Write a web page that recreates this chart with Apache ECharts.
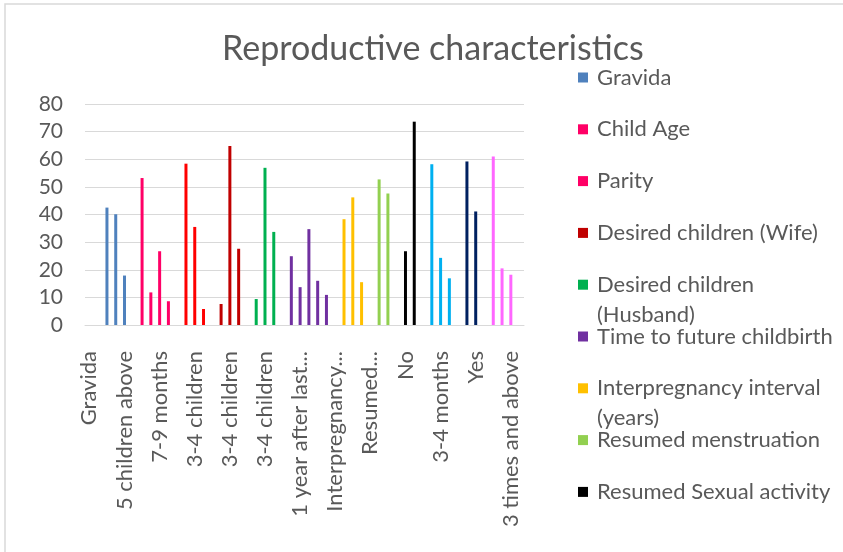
<!DOCTYPE html>
<html>
<head>
<meta charset="utf-8">
<script src="https://cdn.jsdelivr.net/npm/echarts@6/dist/echarts.min.js"></script>
<style>
  html, body { margin: 0; padding: 0; background: #fff; }
  #chart { width: 843px; height: 552px; }
</style>
</head>
<body>
<div id="chart"></div>
<script>
// category rows of the source table (only every 4th label is shown)
var categories = [
    'Gravida', '', '', '', '5 children above', '', '', '', '7-9 months', '',
    '', '', '3-4 children', '', '', '', '3-4 children', '', '', '',
    '3-4 children', '', '', '', '1 year after last...', '', '', '', 'Interpregnancy...', '',
    '', '', 'Resumed...', '', '', '', 'No', '', '', '',
    '3-4 months', '', '', '', 'Yes', '', '', '', '3 times and above', ''
];
var yTicks = [0, 10, 20, 30, 40, 50, 60, 70, 80];

var seriesNames = ['Gravida', 'Child Age', 'Parity', 'Desired children (Wife)',
    'Desired children (Husband)', 'Time to future childbirth',
    'Interpregnancy interval (years)', 'Resumed menstruation', 'Resumed Sexual activity',
    'Series 10', 'Series 11', 'Series 12'];
// first category row of each series
var firstRow = [2, 6, 11, 15, 19, 23, 29, 33, 36, 39, 43, 46];

var gravida      = [42.5, 40.1, 17.9];
var childAge     = [53.2, 11.8, 26.7, 8.6];
var parity       = [58.4, 35.5, 5.8];
var desiredWife  = [7.6, 64.8, 27.6];
var desiredHusb  = [9.4, 56.9, 33.7];
var timeFuture   = [24.9, 13.7, 34.7, 16.0, 10.9];
var interpreg    = [38.3, 46.2, 15.5];
var menstruation = [52.7, 47.6];
var sexual       = [26.7, 73.6];
var series10     = [58.2, 24.3, 16.9];
var series11     = [59.2, 41.1];
var series12     = [61.0, 20.5, 18.2];
var allValues = [gravida, childAge, parity, desiredWife, desiredHusb, timeFuture,
    interpreg, menstruation, sexual, series10, series11, series12];

var colors = ['#4F81BD', '#FF0066', '#FF0000', '#C00000', '#00B050', '#7030A0',
    '#FFC000', '#92D050', '#000000', '#00B0F0', '#002060', '#FF66FF'];
// legend swatch colours (Parity swatch shows pink in the original)
var legendColors = colors.slice();
legendColors[2] = '#FF0066';

var grey = '#595959';
var font = 'Lato, "Open Sans", sans-serif';

var chart = echarts.init(document.getElementById('chart'));

var series = allValues.map(function (vals, k) {
    var data = categories.map(function () { return null; });
    vals.forEach(function (v, j) { data[firstRow[k] + j] = v; });
    return {
        name: seriesNames[k],
        type: 'bar',
        data: data,
        barWidth: 3,
        barGap: '-100%',
        itemStyle: { color: colors[k] },
        silent: true
    };
});

// one legend per visible entry, so wrapped names keep the even spacing
var legendItems = [
    ['Gravida'], ['Child Age'], ['Parity'], ['Desired children (Wife)'],
    ['Desired children', '(Husband)'], ['Time to future childbirth'],
    ['Interpregnancy interval', '(years)'], ['Resumed menstruation'], ['Resumed Sexual activity']
];
var legends = legendItems.map(function (lines, i) {
    var centerY = 77.5 + i * 51.8;
    var two = lines.length > 1;
    // a blank first line keeps the swatch level with the first text line
    var txt = two ? '\n' + lines.join('\n') : lines[0];
    return {
        left: 578,
        top: centerY - (two ? 45 : 15),
        orient: 'vertical',
        icon: 'rect',
        itemWidth: 10,
        itemHeight: 10,
        selectedMode: false,
        padding: 0,
        data: [{ name: seriesNames[i], itemStyle: { color: legendColors[i] } }],
        formatter: function () { return txt; },
        textStyle: {
            color: grey,
            fontSize: 22,
            fontFamily: font,
            lineHeight: 30,
            padding: [0, 0, 0, 4]
        }
    };
});

var option = {
    animation: false,
    backgroundColor: '#fff',
    title: {
        text: 'Reproductive characteristics',
        left: 217,
        top: 27,
        textStyle: { color: grey, fontSize: 34, fontWeight: 'normal', fontFamily: font }
    },
    legend: legends,
    grid: { left: 85, right: 319, top: 104, bottom: 227 },
    xAxis: {
        type: 'category',
        data: categories,
        axisLine: { lineStyle: { color: '#D9D9D9' } },
        axisTick: { show: false },
        axisLabel: {
            interval: 3,
            rotate: 90,
            margin: 26,
            color: grey,
            fontSize: 22,
            fontFamily: font
        }
    },
    yAxis: {
        type: 'value',
        min: yTicks[0],
        max: yTicks[yTicks.length - 1],
        interval: 10,
        axisLine: { show: false },
        axisTick: { show: false },
        splitLine: { lineStyle: { color: '#D9D9D9' } },
        axisLabel: { color: grey, fontSize: 21, fontFamily: font, margin: 22 }
    },
    graphic: [{
        type: 'rect',
        shape: { x: 5, y: 4, width: 860, height: 560 },
        style: { fill: 'none', stroke: '#D9D9D9', lineWidth: 1.5 },
        silent: true
    }],
    series: series
};
chart.setOption(option);
</script>
</body>
</html>
